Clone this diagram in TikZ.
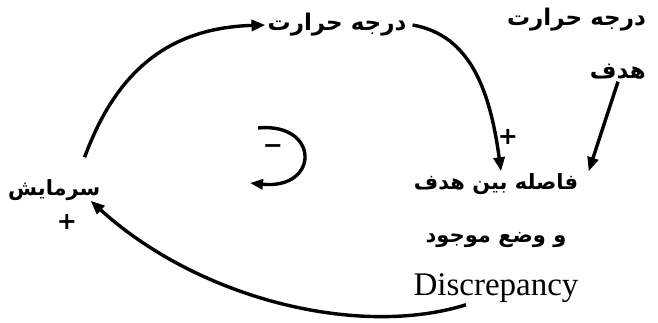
\documentclass[tikz,border=0pt]{standalone}
\usepackage{fontspec}
\setmainfont{Liberation Serif}
\newfontfamily\ar[Script=Arabic]{DejaVu Sans}
\newfontfamily\sg{DejaVu Sans}
\TeXXeTstate=1
\usetikzlibrary{arrows.meta}
\begin{document}
\begin{tikzpicture}[x=1pt,y=-1pt,
  arr/.style={line width=3.4pt,-{Triangle[length=14pt,width=11pt]}},
  lbl/.style={font=\ar\bfseries\fontsize{23}{53}\selectfont, inner sep=2pt},
  sml/.style={font=\ar\bfseries\fontsize{21}{53}\selectfont, inner sep=2pt},
  sign/.style={font=\sg\bfseries\fontsize{24}{24}\selectfont, inner sep=0pt}]
\useasboundingbox (0,0) rectangle (658,322);
\node[lbl] (temp) at (337,25) {\beginR درجه حرارت\endR};
\node[lbl, align=right, anchor=north east] (goal) at (648,6) {\beginR درجه حرارت\endR\\\beginR هدف\endR};
\node[sml, anchor=west] (sar) at (6,190) {\beginR سرمایش\endR};
\node[sml, align=center] (disc) at (496,238) {\beginR فاصله بین هدف\endR\\\beginR و وضع موجود\endR\\{\rmfamily\mdseries\fontsize{33}{53}\selectfont Discrepancy}};
\node[sign] (p1) at (508,137) {+};
\node[sign] (p2) at (67,222) {+};
\node[sign] (m) at (273,149) {−};
\draw[arr] ([shift={(-18,-20)}]sar.north east) .. controls (115,75) and (165,28) .. (temp.west);
\draw[arr] ([xshift=4pt]temp.east) .. controls (470,35) and (490,90) .. ([xshift=5pt]disc.north);
\draw[arr] ([xshift=-30pt]goal.south east) -- ([xshift=8pt]disc.north east);
\draw[arr] ([xshift=-30pt]disc.south) .. controls (360,338) and (200,300) .. ([shift={(-12,-2)}]sar.south east);
\draw[line width=3.4pt,-{Triangle[length=13pt,width=10pt]}] (258,128) .. controls (320,122) and (320,190) .. (250,183);
\end{tikzpicture}
\end{document}
